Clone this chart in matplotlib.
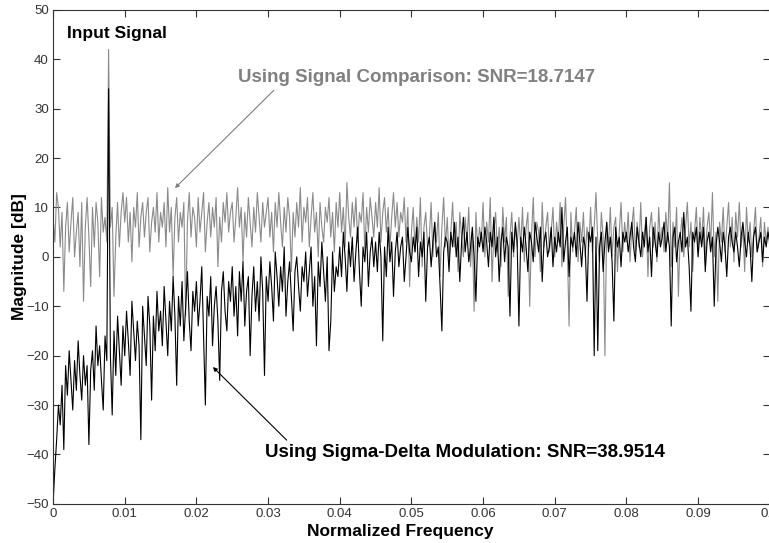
import matplotlib
matplotlib.use("Agg")
import matplotlib.pyplot as plt
import numpy as np

plt.rcParams['font.family'] = ['Liberation Sans', 'DejaVu Sans']

# normalized frequency grid, one bin every 0.00025
freq = np.arange(401) * 0.00025

# spectrum of the signal-comparison output [dB]
comparison_db = [
    8, 3, 13, 10, 2, 9, -7, 6, 11, 1, 7, 12, 0, 5, 9, -2, 11, -9, 6, 12,
    4, -6, 10, 2, 11, 7, -4, 12, 5, 8, 3, 42, 6, 10, -8, 4, 11, 2, 9, 13,
    7, 12, 3, 9, -1, 10, 6, 13, 2, 8, 11, 4, 9, 12, 1, 7, 10, 5, 13, 3,
    9, 6, 11, 2, 14, 5, 10, -4, 8, 12, 3, 9, 6, 11, -12, 7, 13, 4, 10, 8,
    2, 12, 5, 9, 13, 1, 7, 11, 4, 10, 6, 12, -2, 8, 3, 11, 7, 13, 5, 9,
    11, 3, 8, 14, 6, 10, -1, 9, 4, 12, 7, 2, 10, 5, 13, 8, 3, 11, 6, 9,
    12, 4, 9, 1, 11, 6, 13, 7, 2, 10, 5, 12, 8, -3, 9, 4, 11, 6, 14, 3,
    10, 7, 12, 2, 8, 13, 5, 9, 0, 11, 6, 3, 10, 7, 12, 4, 9, 1, 11, 6,
    13, 5, 10, 2, 15, 8, 4, 11, 6, 12, 3, 9, 7, 13, 1, 10, 5, 12, 8, 4,
    11, 6, 14, 3, 9, 12, 5, 10, 2, 8, 13, 6, 11, 4, 9, 7, 12, 3, 10, -6,
    5, 10, 1, 8, 3, 12, -2, 6, 9, 2, 4, 11, 0, 7, 3, 9, -4, 6, 12, 2,
    8, -1, 5, 11, 2, 7, -3, 9, 4, 0, 8, 3, 10, -2, 5, -11, 9, 1, 6, 3,
    11, 0, 7, 3, 12, -5, 5, 9, 1, 6, -2, 10, 3, 8, -8, 4, 9, 0, 6, 2,
    8, 2, 10, -1, 6, 9, -10, 4, 12, 0, 7, 5, -3, 11, 2, 6, 9, 1, 5, 10,
    0, 7, 3, 11, -2, 6, 12, 2, -14, 9, 1, 5, 10, -1, 7, 3, 9, 0, 6, 2,
    10, 1, 6, 13, 3, -1, 9, 4, -20, 7, 2, 10, 0, 6, 8, -3, 5, 11, 1, 7,
    3, 9, -1, 6, 10, 1, 7, 2, 11, 0, 5, 8, -4, 6, 9, 2, 7, -1, 10, 3,
    6, 1, 9, 3, 15, -2, 7, 2, 10, -8, 4, 8, 0, 6, 11, 2, 7, -3, 5, 10,
    1, 8, 3, 10, -1, 6, 9, 2, 13, 0, 5, -9, 7, 3, 10, 1, 6, 11, 2, 8,
    -1, 9, 4, 11, 2, 6, -3, 10, 3, 7, 0, 5, 10, 1, 4, 8, -2, 7, 3, 6,
    2,
]

# spectrum of the sigma-delta output [dB]
sigma_delta_db = [
    -50, -43, -37, -30, -34, -26, -39, -22, -28, -19, -25, -31, -21, -27, -17, -24, -29, -20, -26, -22,
    -38, -23, -19, -27, -14, -22, -18, -25, -31, -16, -21, 34, -20, -32, -15, -24, -12, -19, -26, -14,
    -20, -11, -17, -24, -9, -15, -21, -13, -18, -37, -10, -16, -22, -8, -14, -29, -12, -19, -7, -15,
    -11, -18, -6, -13, -20, -9, -15, -4, -12, -26, -8, -14, -5, -17, -10, -3, -13, -19, -7, -11,
    -5, -14, -9, -2, -16, -30, -8, -12, -4, -18, -10, -6, -13, -25, -7, -3, -11, -15, -5, -9,
    -2, -12, -6, -16, -3, -9, -1, -14, -7, -4, -20, -8, -2, -11, -5, -13, 0, -7, -24, -4,
    -9, -1, -6, -13, 1, -4, -10, -2, -7, 2, -12, -5, -1, -8, -15, -3, 0, -6, -11, -2,
    -5, 1, -8, -3, 2, -10, -4, -18, -1, -6, 3, -3, -9, 0, -19, -13, 1, -7, -2, -4,
    2, -4, 5, 0, -7, 3, -2, 4, -5, 1, 6, -3, -10, 2, -1, 5, -6, 1, 4, -2,
    3, -3, 5, 0, -17, 2, -4, 6, -1, 3, -8, 1, 5, -2, 2, 4, -5, 0, 6, 1,
    -1, 4, 1, 6, -4, 3, 0, 5, -9, 2, 4, -2, 3, 7, 0, 2, -6, -15, 1, 4,
    3, -3, 5, 2, 7, 0, 4, -5, 3, 8, 1, 5, -1, 2, 6, 0, -9, 4, 2, 5,
    1, 6, 3, -2, 5, 2, 8, 0, 4, -5, 3, 6, -1, 4, 2, -12, 5, 1, 7, 3,
    -14, 4, 1, 6, 2, -3, 5, 3, -1, 7, 4, 1, 6, -5, 3, 5, 0, 2, 6, -2,
    4, 1, 5, 2, 10, -1, 3, 6, -4, 4, 2, 5, 0, 7, 3, -2, 4, 2, -9, 5,
    3, 6, -20, 4, -19, 2, 5, -3, 3, 7, 1, 4, -1, -13, 6, 2, 4, -2, 5, 3,
    5, 1, 4, 7, 2, -1, 6, 3, 0, 5, 2, 8, 1, 4, -4, 6, 3, 0, 5, 2,
    4, 7, 1, 5, 2, -14, 4, 6, -1, 3, 5, 1, 9, 2, 4, -2, -11, 5, 3, 6,
    0, 5, 2, 6, -3, 3, 5, 1, 4, -10, 2, 6, 3, -1, 5, 2, -4, 4, 6, 3,
    1, 5, 2, -2, 4, 7, 3, 0, 5, 2, -5, 4, 6, 1, 3, 5, -1, 4, 2, 5,
    3,
]

fig = plt.figure(figsize=(7.69, 5.43), dpi=100)
ax = fig.add_axes([0.069, 0.072, 0.932, 0.910])

ax.plot(freq, comparison_db, color='#8a8a8a', lw=0.8)
ax.plot(freq, sigma_delta_db, color='black', lw=0.8)

ax.set_xlim(0, 0.1)
ax.set_ylim(-50, 50)
ax.set_xticks(np.arange(0, 0.1001, 0.01))
ax.set_xticklabels(['0', '0.01', '0.02', '0.03', '0.04', '0.05', '0.06', '0.07', '0.08', '0.09', '0.1'])
ax.set_yticks(np.arange(-50, 51, 10))
ax.tick_params(direction='in', length=5, top=True, right=True, labelsize=9.5,
               colors='#333333', width=0.8, pad=3)
for s in ax.spines.values():
    s.set_color('#333333')
    s.set_linewidth(0.8)

ax.set_xlabel('Normalized Frequency', fontsize=12.5, fontweight='bold')
ax.set_ylabel('Magnitude [dB]', fontsize=12.5, fontweight='bold')
ax.xaxis.set_label_coords(0.485, -0.040)
ax.yaxis.set_label_coords(-0.036, 0.5)

ax.text(0.002, 45.2, 'Input Signal', fontsize=12.5, fontweight='bold', va='center')

ax.text(0.0258, 36.3, 'Using Signal Comparison: SNR=18.7147', fontsize=13.5,
        fontweight='bold', color='#808080', va='center')
ax.annotate('', xy=(0.0170, 13.9), xytext=(0.0308, 33.7),
            arrowprops=dict(arrowstyle='-|>', color='#808080', lw=0.8, mutation_scale=6,
                            shrinkA=0, shrinkB=0))

ax.text(0.0296, -39.5, 'Using Sigma-Delta Modulation: SNR=38.9514', fontsize=13.5,
        fontweight='bold', color='black', va='center')
ax.annotate('', xy=(0.0223, -22.3), xytext=(0.0326, -37.1),
            arrowprops=dict(arrowstyle='-|>', color='black', lw=0.8, mutation_scale=6,
                            shrinkA=0, shrinkB=0))

fig.savefig('out.png', dpi=100)
